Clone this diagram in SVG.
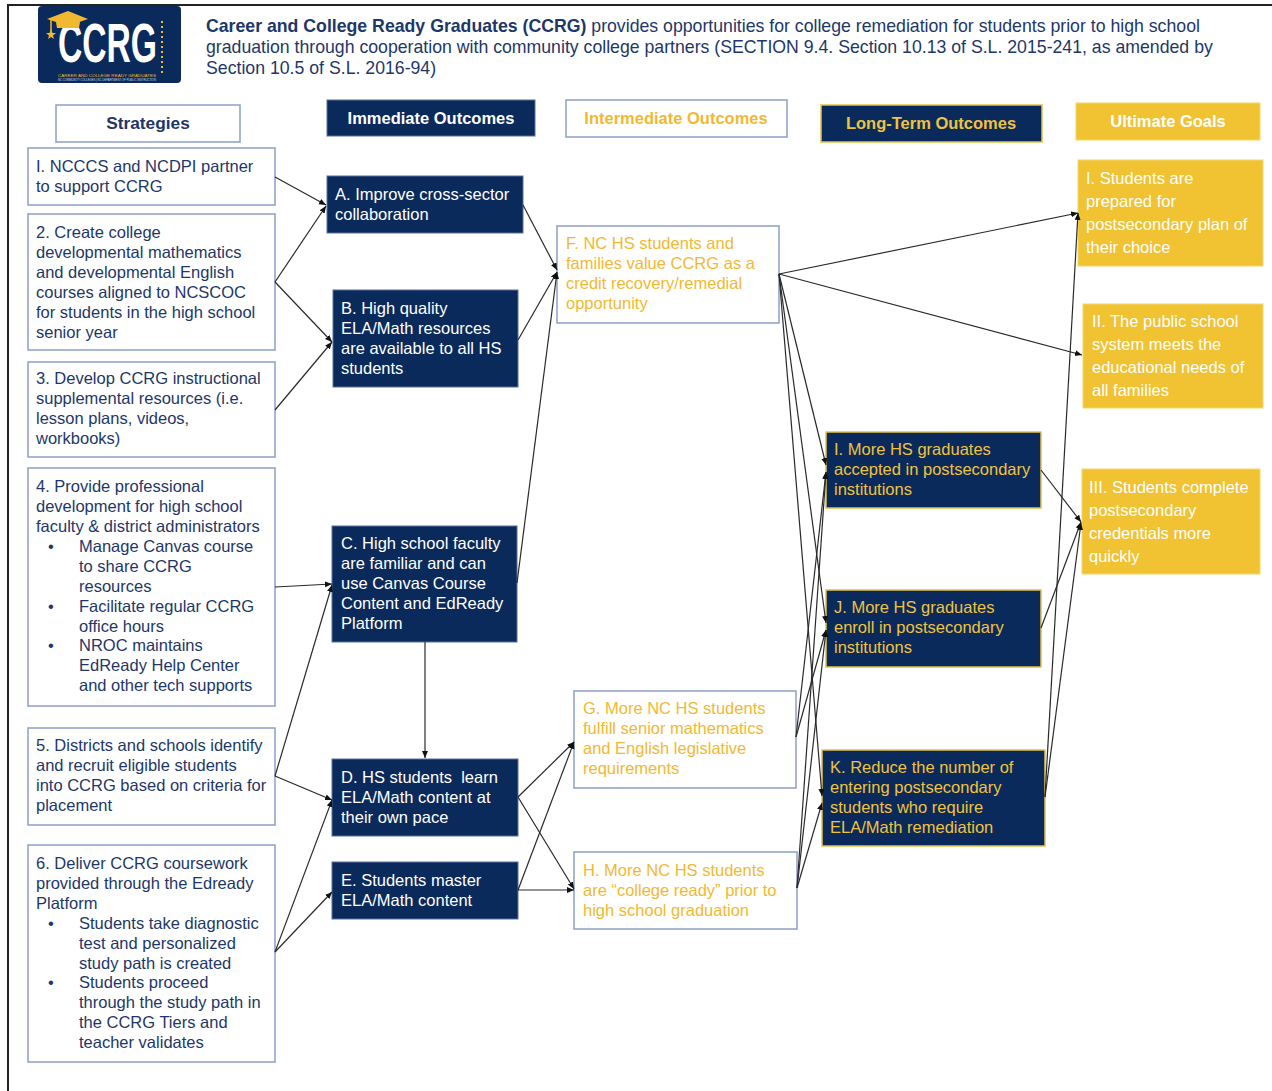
<svg xmlns="http://www.w3.org/2000/svg" width="1272" height="1091" viewBox="0 0 1272 1091">
<style>
text{font-family:"Liberation Sans",Arial,sans-serif;}
.t{font-size:16.5px;}
.nav{fill:#1e3768;}
.wht{fill:#ffffff;}
.yel{fill:#f1b930;}
.yl2{fill:#f0c33c;}
.sbox{fill:#ffffff;stroke:#8d9fc6;stroke-width:1.5;}
.ibox{fill:#0b2a5c;stroke:#5a6f99;stroke-width:1;}
.lbox{fill:#0b2a5c;stroke:#e5c24a;stroke-width:1.5;}
.gbox{fill:#f1c232;stroke:#f5d76b;stroke-width:1;}
.hd{font-size:16.5px;font-weight:bold;}
.c line{stroke:#2a2a2a;stroke-width:1.2;fill:none;marker-end:url(#ah);}
</style>
<defs>
<marker id="ah" markerUnits="userSpaceOnUse" markerWidth="8" markerHeight="7" refX="7" refY="3" orient="auto">
<path d="M0,0 L7,3 L0,6 z" fill="#111"/>
</marker>
</defs>
<rect width="1272" height="1091" fill="#ffffff"/>
<polyline points="8,1091 8,5 1272,5" fill="none" stroke="#222" stroke-width="2"/>

<g id="logo">
<rect x="38" y="6" width="143" height="77" rx="4" fill="#0b2a5c"/>
<text x="58" y="62" font-size="56" font-weight="bold" fill="#ffffff" textLength="99" lengthAdjust="spacingAndGlyphs">CCRG</text>
<polygon points="47,19 68,11 88,19 68,26" fill="#f1b930"/>
<polygon points="56,22 80,22 79,28 57,28" fill="#f1b930"/>
<line x1="51" y1="20" x2="51" y2="31" stroke="#f1b930" stroke-width="1.5"/>
<polygon points="51,29 52.5,33 56,33 53,35.5 54,39 51,37 48,39 49,35.5 46,33 49.5,33" fill="#f1b930"/>
<line x1="162" y1="21" x2="162" y2="76" stroke="#f1b930" stroke-width="2" stroke-dasharray="2,3"/>
<text x="58" y="77" font-size="4" fill="#f1b930" textLength="98" lengthAdjust="spacingAndGlyphs">CAREER AND COLLEGE READY GRADUATES</text>
<text x="58" y="81.2" font-size="3" fill="#c9d3e6" textLength="98" lengthAdjust="spacingAndGlyphs">NC COMMUNITY COLLEGES | NC DEPARTMENT OF PUBLIC INSTRUCTION</text>
</g>

<g id="title">
<text class="nav" font-size="17.7" x="206" y="32"><tspan font-weight="bold">Career and College Ready Graduates (CCRG)</tspan> provides opportunities for college remediation for students prior to high school</text>
<text class="nav" font-size="17.7" x="206" y="53">graduation through cooperation with community college partners (SECTION 9.4. Section 10.13 of S.L. 2015-241, as amended by</text>
<text class="nav" font-size="17.7" x="206" y="74">Section 10.5 of S.L. 2016-94)</text>
</g>

<g id="hdr-strategies"><rect class="sbox" x="56" y="105" width="184" height="37"/><text class="nav" font-weight="bold" font-size="17.3" x="148" y="129" text-anchor="middle">Strategies</text></g>
<g id="hdr-immediate"><rect class="ibox" x="327" y="100" width="208" height="36"/><text class="wht hd" x="431" y="124" text-anchor="middle">Immediate Outcomes</text></g>
<g id="hdr-intermediate"><rect class="sbox" x="566" y="100" width="221" height="37"/><text class="yel hd" x="676" y="124" text-anchor="middle">Intermediate Outcomes</text></g>
<g id="hdr-longterm"><rect class="lbox" x="821" y="105" width="221" height="37"/><text class="yl2 hd" x="931" y="129" text-anchor="middle">Long-Term Outcomes</text></g>
<g id="hdr-goals"><rect class="gbox" x="1076" y="103" width="184" height="37"/><text class="wht hd" x="1168" y="127" text-anchor="middle">Ultimate Goals</text></g>

<g id="s1"><rect class="sbox" x="28" y="148" width="247" height="57"/>
<text class="t nav" x="36" y="172">I. NCCCS and NCDPI partner<tspan x="36" dy="20">to support CCRG</tspan></text></g>
<g id="s2"><rect class="sbox" x="28" y="214" width="247" height="136"/>
<text class="t nav" x="36" y="238">2. Create college<tspan x="36" dy="20">developmental mathematics</tspan><tspan x="36" dy="20">and developmental English</tspan><tspan x="36" dy="20">courses aligned to NCSCOC</tspan><tspan x="36" dy="20">for students in the high school</tspan><tspan x="36" dy="20">senior year</tspan></text></g>
<g id="s3"><rect class="sbox" x="28" y="362" width="247" height="95"/>
<text class="t nav" x="36" y="384">3. Develop CCRG instructional<tspan x="36" dy="20">supplemental resources (i.e.</tspan><tspan x="36" dy="20">lesson plans, videos,</tspan><tspan x="36" dy="20">workbooks)</tspan></text></g>
<g id="s4"><rect class="sbox" x="28" y="468" width="247" height="238"/>
<text class="t nav" x="36" y="492">4. Provide professional<tspan x="36" dy="20">development for high school</tspan><tspan x="36" dy="20">faculty &amp; district administrators</tspan></text>
<text class="t nav" x="48" y="552">•</text><text class="t nav" x="79" y="552">Manage Canvas course<tspan x="79" dy="20">to share CCRG</tspan><tspan x="79" dy="20">resources</tspan></text>
<text class="t nav" x="48" y="612">•</text><text class="t nav" x="79" y="612">Facilitate regular CCRG<tspan x="79" dy="20">office hours</tspan></text>
<text class="t nav" x="48" y="651">•</text><text class="t nav" x="79" y="651">NROC maintains<tspan x="79" dy="20">EdReady Help Center</tspan><tspan x="79" dy="20">and other tech supports</tspan></text></g>
<g id="s5"><rect class="sbox" x="28" y="728" width="247" height="97"/>
<text class="t nav" x="36" y="751">5. Districts and schools identify<tspan x="36" dy="20">and recruit eligible students</tspan><tspan x="36" dy="20">into CCRG based on criteria for</tspan><tspan x="36" dy="20">placement</tspan></text></g>
<g id="s6"><rect class="sbox" x="28" y="845" width="247" height="217"/>
<text class="t nav" x="36" y="869">6. Deliver CCRG coursework<tspan x="36" dy="20">provided through the Edready</tspan><tspan x="36" dy="20">Platform</tspan></text>
<text class="t nav" x="48" y="929">•</text><text class="t nav" x="79" y="929">Students take diagnostic<tspan x="79" dy="20">test and personalized</tspan><tspan x="79" dy="20">study path is created</tspan></text>
<text class="t nav" x="48" y="988">•</text><text class="t nav" x="79" y="988">Students proceed<tspan x="79" dy="20">through the study path in</tspan><tspan x="79" dy="20">the CCRG Tiers and</tspan><tspan x="79" dy="20">teacher validates</tspan></text></g>

<g id="A"><rect class="ibox" x="327" y="176" width="196" height="57"/>
<text class="t wht" x="335" y="200">A. Improve cross-sector<tspan x="335" dy="20">collaboration</tspan></text></g>
<g id="B"><rect class="ibox" x="333" y="290" width="185" height="97"/>
<text class="t wht" x="341" y="314">B. High quality<tspan x="341" dy="20">ELA/Math resources</tspan><tspan x="341" dy="20">are available to all HS</tspan><tspan x="341" dy="20">students</tspan></text></g>
<g id="C"><rect class="ibox" x="332" y="526" width="185" height="116"/>
<text class="t wht" x="341" y="549">C. High school faculty<tspan x="341" dy="20">are familiar and can</tspan><tspan x="341" dy="20">use Canvas Course</tspan><tspan x="341" dy="20">Content and EdReady</tspan><tspan x="341" dy="20">Platform</tspan></text></g>
<g id="D"><rect class="ibox" x="332" y="759" width="186" height="77"/>
<text class="t wht" x="341" y="783" xml:space="preserve">D. HS students  learn<tspan x="341" dy="20">ELA/Math content at</tspan><tspan x="341" dy="20">their own pace</tspan></text></g>
<g id="E"><rect class="ibox" x="332" y="862" width="186" height="57"/>
<text class="t wht" x="341" y="886">E. Students master<tspan x="341" dy="20">ELA/Math content</tspan></text></g>

<g id="F"><rect class="sbox" x="557" y="226" width="222" height="97"/>
<text class="t yel" x="566" y="249">F. NC HS students and<tspan x="566" dy="20">families value CCRG as a</tspan><tspan x="566" dy="20">credit recovery/remedial</tspan><tspan x="566" dy="20">opportunity</tspan></text></g>
<g id="G"><rect class="sbox" x="574" y="691" width="222" height="97"/>
<text class="t yel" x="583" y="714">G. More NC HS students<tspan x="583" dy="20">fulfill senior mathematics</tspan><tspan x="583" dy="20">and English legislative</tspan><tspan x="583" dy="20">requirements</tspan></text></g>
<g id="H"><rect class="sbox" x="574" y="852" width="223" height="77"/>
<text class="t yel" x="583" y="876">H. More NC HS students<tspan x="583" dy="20">are “college ready” prior to</tspan><tspan x="583" dy="20">high school graduation</tspan></text></g>

<g id="I"><rect class="lbox" x="826" y="432" width="215" height="76"/>
<text class="t yl2" x="834" y="455">I. More HS graduates<tspan x="834" dy="20">accepted in postsecondary</tspan><tspan x="834" dy="20">institutions</tspan></text></g>
<g id="J"><rect class="lbox" x="826" y="590" width="215" height="77"/>
<text class="t yl2" x="834" y="613">J. More HS graduates<tspan x="834" dy="20">enroll in postsecondary</tspan><tspan x="834" dy="20">institutions</tspan></text></g>
<g id="K"><rect class="lbox" x="822" y="750" width="223" height="96"/>
<text class="t yl2" x="830" y="773">K. Reduce the number of<tspan x="830" dy="20">entering postsecondary</tspan><tspan x="830" dy="20">students who require</tspan><tspan x="830" dy="20">ELA/Math remediation</tspan></text></g>

<g id="goal1"><rect class="gbox" x="1078" y="160" width="185" height="106"/>
<text class="t wht" x="1086" y="184">I. Students are<tspan x="1086" dy="23">prepared for</tspan><tspan x="1086" dy="23">postsecondary plan of</tspan><tspan x="1086" dy="23">their choice</tspan></text></g>
<g id="goal2"><rect class="gbox" x="1083" y="304" width="180" height="104"/>
<text class="t wht" x="1092" y="327">II. The public school<tspan x="1092" dy="23">system meets the</tspan><tspan x="1092" dy="23">educational needs of</tspan><tspan x="1092" dy="23">all families</tspan></text></g>
<g id="goal3"><rect class="gbox" x="1082" y="469" width="178" height="105"/>
<text class="t wht" x="1089" y="493">III. Students complete<tspan x="1089" dy="23">postsecondary</tspan><tspan x="1089" dy="23">credentials more</tspan><tspan x="1089" dy="23">quickly</tspan></text></g>

<g id="connectors" class="c">
<line x1="275" y1="177" x2="326" y2="205"/>
<line x1="275" y1="282" x2="326" y2="206"/>
<line x1="275" y1="282" x2="332" y2="342"/>
<line x1="275" y1="410" x2="332" y2="342"/>
<line x1="275" y1="587" x2="332" y2="584"/>
<line x1="275" y1="776" x2="332" y2="585"/>
<line x1="275" y1="776" x2="332" y2="800"/>
<line x1="275" y1="952" x2="332" y2="800"/>
<line x1="275" y1="952" x2="332" y2="892"/>
<line x1="523" y1="205" x2="557" y2="270"/>
<line x1="518" y1="340" x2="557" y2="272"/>
<line x1="517" y1="583" x2="557" y2="272"/>
<line x1="425" y1="642" x2="425" y2="758"/>
<line x1="518" y1="797" x2="574" y2="742"/>
<line x1="518" y1="797" x2="574" y2="889"/>
<line x1="518" y1="890" x2="574" y2="742"/>
<line x1="518" y1="890" x2="574" y2="890"/>
<line x1="779" y1="274" x2="1078" y2="213"/>
<line x1="779" y1="274" x2="1082" y2="355"/>
<line x1="779" y1="274" x2="826" y2="465"/>
<line x1="779" y1="274" x2="826" y2="623"/>
<line x1="779" y1="274" x2="822" y2="796"/>
<line x1="796" y1="737" x2="826" y2="472"/>
<line x1="796" y1="737" x2="826" y2="630"/>
<line x1="797" y1="888" x2="826" y2="472"/>
<line x1="797" y1="888" x2="826" y2="630"/>
<line x1="797" y1="888" x2="822" y2="803"/>
<line x1="1041" y1="470" x2="1081" y2="522"/>
<line x1="1041" y1="628" x2="1081" y2="522"/>
<line x1="1045" y1="797" x2="1081" y2="523"/>
<line x1="1045" y1="797" x2="1078" y2="213"/>
</g>
</svg>
